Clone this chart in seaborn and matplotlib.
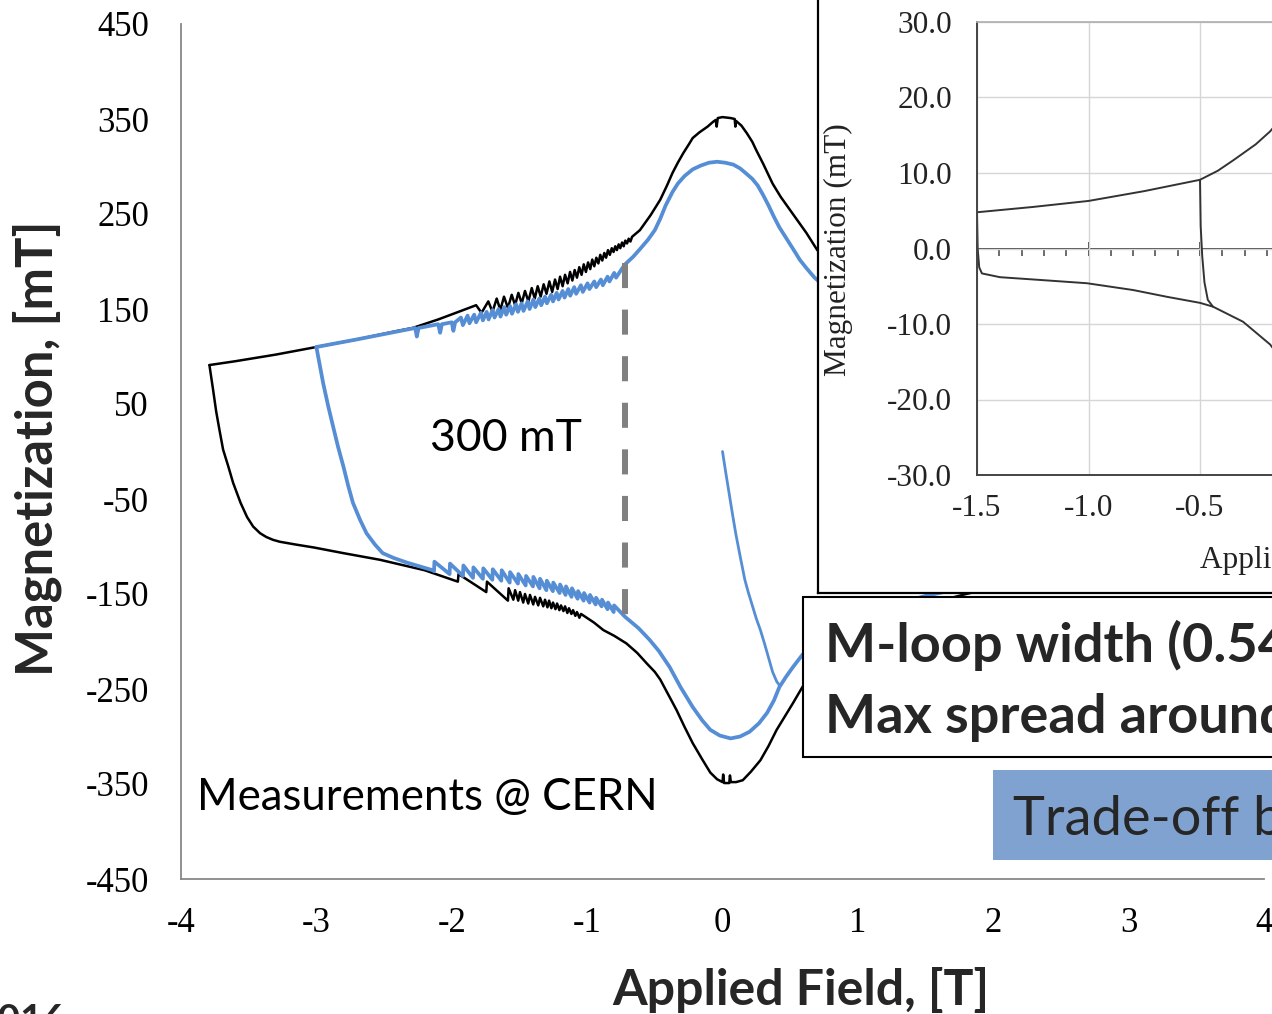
import numpy as np
import pandas as pd
import matplotlib
matplotlib.use("Agg")
import matplotlib.pyplot as plt
import seaborn as sns
from matplotlib.patches import Rectangle
from matplotlib.ticker import MultipleLocator, FormatStrFormatter

# ---------------------------------------------------------------------------
# Magnetization loops, (applied field [T], magnetization [mT])
# ---------------------------------------------------------------------------
black_upper = [
    (-3.79, 91), (-3.60, 95), (-3.30, 102), (-3.00, 110), (-2.70, 118), (-2.40, 127),
    (-2.29, 130), (-2.10, 139), (-1.95, 147), (-1.82, 154), (-1.78, 146),
    (-1.730, 158), (-1.699, 147), (-1.668, 161), (-1.641, 149), (-1.614, 163), (-1.585, 151),
    (-1.557, 165), (-1.532, 154), (-1.508, 167), (-1.483, 156), (-1.459, 169), (-1.434, 158),
    (-1.409, 172), (-1.387, 161), (-1.365, 174), (-1.343, 163), (-1.321, 176), (-1.300, 166),
    (-1.279, 179), (-1.258, 168), (-1.237, 181), (-1.218, 171), (-1.200, 184), (-1.181, 174),
    (-1.163, 186), (-1.144, 177), (-1.126, 189), (-1.109, 180), (-1.092, 191), (-1.075, 183),
    (-1.058, 194), (-1.041, 186), (-1.025, 197), (-1.009, 189), (-0.993, 199), (-0.977, 192),
    (-0.962, 202), (-0.947, 195), (-0.932, 204), (-0.917, 198), (-0.903, 207), (-0.888, 201),
    (-0.873, 209), (-0.860, 204), (-0.846, 212), (-0.832, 207), (-0.818, 214), (-0.805, 210),
    (-0.792, 216), (-0.780, 212), (-0.767, 218), (-0.755, 214), (-0.742, 220), (-0.730, 216),
    (-0.718, 222), (-0.705, 219), (-0.693, 224), (-0.680, 221), (-0.668, 226),
    (-0.61, 233), (-0.53, 249), (-0.46, 265), (-0.41, 280), (-0.37, 293), (-0.33, 304),
    (-0.29, 314), (-0.25, 323), (-0.22, 330), (-0.17, 336), (-0.11, 342), (-0.07, 347),
    (-0.05, 349), (-0.043, 342), (-0.035, 351), (0.00, 352), (0.06, 351), (0.09, 350),
    (0.095, 342), (0.10, 348), (0.14, 343), (0.18, 335), (0.22, 326), (0.25, 317),
    (0.30, 303), (0.37, 282), (0.43, 268), (0.50, 254), (0.56, 242), (0.62, 230),
    (0.70, 212), (0.85, 192), (1.00, 176),
]

black_lower = [
    (-3.79, 91), (-3.763, 65), (-3.74, 42), (-3.715, 22), (-3.689, 2), (-3.65, -16),
    (-3.615, -33), (-3.56, -54), (-3.512, -69), (-3.467, -79), (-3.416, -86), (-3.37, -90),
    (-3.32, -93), (-3.27, -95), (-3.15, -98), (-3.02, -101), (-2.80, -107), (-2.53, -114),
    (-2.20, -125), (-1.955, -137), (-1.950, -129),
    (-1.745, -148), (-1.740, -137), (-1.585, -157), (-1.580, -144),
    (-1.545, -156), (-1.532, -146), (-1.509, -157), (-1.496, -148), (-1.472, -159), (-1.459, -150),
    (-1.435, -160), (-1.422, -151), (-1.398, -161), (-1.385, -153), (-1.361, -162), (-1.348, -154),
    (-1.324, -163), (-1.311, -156), (-1.293, -164), (-1.281, -157), (-1.264, -165), (-1.252, -159),
    (-1.234, -166), (-1.222, -160), (-1.205, -167), (-1.193, -162), (-1.175, -168), (-1.163, -163),
    (-1.146, -170), (-1.134, -165), (-1.116, -171), (-1.104, -167), (-1.087, -173), (-1.075, -169),
    (-1.057, -175), (-1.045, -171),
    (-0.95, -180), (-0.88, -188), (-0.80, -194), (-0.71, -202), (-0.63, -212), (-0.56, -223),
    (-0.50, -232), (-0.46, -240), (-0.40, -256), (-0.34, -272), (-0.28, -290), (-0.22, -307),
    (-0.15, -324), (-0.09, -338), (-0.04, -345), (0.00, -348), (0.005, -340), (0.012, -349),
    (0.05, -349), (0.055, -341), (0.062, -348), (0.10, -348), (0.15, -346), (0.21, -337),
    (0.28, -325), (0.34, -310), (0.40, -293), (0.46, -279), (0.52, -265), (0.59, -248),
    (0.75, -215), (0.90, -202), (1.10, -187), (1.30, -171), (1.50, -161), (1.80, -150),
    (2.10, -140), (2.50, -126), (3.00, -110), (3.79, -91),
]

blue_upper = [
    (-3.00, 110), (-2.70, 118), (-2.45, 125), (-2.27, 130), (-2.258, 121), (-2.245, 130),
    (-2.100, 134), (-2.086, 125), (-2.073, 134), (-2.000, 136), (-1.988, 127), (-1.975, 136),
    (-1.932, 141), (-1.918, 133), (-1.883, 143), (-1.869, 135), (-1.834, 144), (-1.820, 136),
    (-1.784, 146), (-1.770, 138), (-1.742, 147), (-1.728, 139), (-1.698, 149), (-1.684, 141),
    (-1.654, 150), (-1.640, 142), (-1.612, 152), (-1.598, 144), (-1.569, 153), (-1.555, 145),
    (-1.525, 155), (-1.511, 147), (-1.484, 156), (-1.470, 148), (-1.439, 158), (-1.425, 150),
    (-1.397, 160), (-1.383, 152), (-1.353, 161), (-1.339, 154), (-1.311, 163), (-1.297, 156),
    (-1.266, 165), (-1.252, 158), (-1.225, 167), (-1.211, 160), (-1.181, 169), (-1.167, 162),
    (-1.139, 171), (-1.125, 164), (-1.095, 173), (-1.081, 166), (-1.046, 175), (-1.032, 168),
    (-0.997, 177), (-0.983, 171), (-0.947, 179), (-0.933, 173), (-0.898, 181), (-0.884, 175),
    (-0.849, 184), (-0.835, 179), (-0.800, 188), (-0.786, 183),
    (-0.74, 193), (-0.72, 197), (-0.66, 205), (-0.61, 213), (-0.55, 223), (-0.50, 233),
    (-0.46, 245), (-0.42, 259), (-0.37, 273), (-0.33, 282), (-0.28, 290), (-0.22, 297),
    (-0.16, 301), (-0.10, 304), (-0.04, 305), (0.02, 304), (0.08, 302), (0.13, 298),
    (0.18, 292), (0.22, 287), (0.26, 280), (0.30, 270), (0.34, 259), (0.38, 247),
    (0.42, 236), (0.46, 227), (0.50, 218), (0.54, 209), (0.57, 202), (0.62, 193),
    (0.68, 183), (0.85, 162), (1.00, 150),
]

blue_lower = [
    (-3.00, 110), (-2.95, 72), (-2.913, 48), (-2.876, 26), (-2.84, 5), (-2.80, -16),
    (-2.765, -36), (-2.73, -54), (-2.677, -72), (-2.63, -86), (-2.567, -98), (-2.51, -107),
    (-2.43, -112), (-2.33, -117), (-2.14, -125),
    (-2.131, -126), (-2.128, -116), (-2.016, -129), (-2.013, -118), (-1.917, -131), (-1.914, -120),
    (-1.843, -133), (-1.840, -122), (-1.770, -134), (-1.767, -123), (-1.700, -135), (-1.697, -124),
    (-1.634, -136), (-1.631, -125), (-1.572, -138), (-1.569, -127), (-1.511, -139), (-1.508, -129),
    (-1.454, -141), (-1.451, -131), (-1.400, -142), (-1.397, -132), (-1.351, -144), (-1.348, -134),
    (-1.301, -146), (-1.298, -136), (-1.253, -147), (-1.250, -138), (-1.203, -149), (-1.200, -140),
    (-1.159, -151), (-1.156, -142), (-1.115, -153), (-1.112, -144), (-1.070, -155), (-1.067, -147),
    (-1.026, -157), (-1.023, -149), (-0.982, -159), (-0.979, -151), (-0.937, -161), (-0.934, -154),
    (-0.893, -163), (-0.890, -156), (-0.849, -166), (-0.846, -159), (-0.804, -169), (-0.801, -162),
    (-0.72, -174), (-0.62, -186), (-0.54, -198), (-0.47, -210), (-0.39, -227), (-0.31, -248),
    (-0.22, -269), (-0.15, -283), (-0.09, -293), (-0.02, -299), (0.06, -302), (0.13, -300),
    (0.20, -295), (0.27, -286), (0.33, -275), (0.38, -262), (0.42, -248), (0.47, -237),
    (0.52, -227), (0.59, -214), (0.75, -192), (0.90, -178), (1.10, -168), (1.30, -160),
    (1.50, -152), (1.80, -143), (2.20, -132), (2.60, -122), (3.00, -110),
]

blue_virgin = [
    (0.00, 0), (0.025, -23), (0.05, -45), (0.075, -67), (0.10, -88), (0.13, -110),
    (0.165, -135), (0.19, -148), (0.22, -162), (0.25, -176), (0.28, -188), (0.31, -202),
    (0.33, -212), (0.35, -222), (0.37, -232), (0.40, -242), (0.42, -246),
]

# loop opening marked at -0.72 T
gap_field = -0.72
gap_top = 198
gap_bottom = -173

# Small loop (reference sample), field [T] vs magnetization [mT]
small_upper = [
    (-1.5, 4.8), (-1.25, 5.5), (-1.0, 6.3), (-0.75, 7.6), (-0.5, 9.1), (-0.42, 10.3),
    (-0.35, 11.7), (-0.25, 13.8), (-0.186, 15.5), (-0.10, 18.5),
]
small_lower = [
    (-1.5, 4.8), (-1.497, 0.0), (-1.490, -2.5), (-1.478, -3.3), (-1.397, -3.8), (-1.2, -4.2),
    (-1.007, -4.6), (-0.8, -5.5), (-0.648, -6.4), (-0.5, -7.2), (-0.442, -7.7),
    (-0.307, -9.7), (-0.186, -12.7), (-0.10, -16.0),
]
small_jump = [
    (-0.5, 9.1), (-0.497, 3.0), (-0.490, -1.0), (-0.480, -4.5), (-0.465, -6.8), (-0.442, -7.7),
]

main_xticks = list(range(-4, 5))
main_yticks = list(range(-450, 451, 100))
small_xticks = [-1.5, -1.0, -0.5, 0.0, 0.5, 1.0, 1.5]
small_yticks = [-30, -20, -10, 0, 10, 20, 30]

# ---------------------------------------------------------------------------
sns.set_theme(style="white")
plt.rcParams['font.family'] = ['Lato', 'DejaVu Sans']
plt.rcParams['axes.unicode_minus'] = False

W, H = 1272, 1014
fig = plt.figure(figsize=(W / 100, H / 100), dpi=100)
fig.patch.set_facecolor('white')


def fx(px):
    return px / W


def fy(py):
    return 1 - py / H


def frame(points):
    return pd.DataFrame(points, columns=['field', 'mag'])


AXIS_GREY = '#888888'
BLUE = '#558ED5'

ax = fig.add_axes([fx(181), fy(879), fx(1264) - fx(181), fy(24) - fy(879)])
for pts, col, lw in [(black_upper, 'black', 1.8), (black_lower, 'black', 1.8),
                     (blue_upper, BLUE, 2.7), (blue_lower, BLUE, 2.7),
                     (blue_virgin, BLUE, 2.0)]:
    sns.lineplot(data=frame(pts), x='field', y='mag', sort=False, estimator=None,
                 color=col, lw=lw, ax=ax, legend=False)
ax.plot([gap_field, gap_field], [gap_top, gap_bottom], color='#808080', lw=4.3,
        dashes=(4.2, 3.6), zorder=5)

ax.set_xlim(-4, 4)
ax.set_ylim(-450, 450)
ax.set_xticks(main_xticks)
ax.set_yticks(main_yticks)
ax.set_xlabel('')
ax.set_ylabel('')
for side in ('top', 'right'):
    ax.spines[side].set_visible(False)
for side in ('left', 'bottom'):
    ax.spines[side].set_color(AXIS_GREY)
    ax.spines[side].set_linewidth(1.3)
ax.tick_params(axis='both', direction='out', length=8, width=1.3, color=AXIS_GREY,
               labelsize=25, labelcolor='black', labelfontfamily='Liberation Serif')
ax.tick_params(axis='y', pad=15)
ax.tick_params(axis='x', pad=12)
ax.set_facecolor('white')

ax.text(-2.16, 14, '300 mT', fontsize=32, ha='left', va='center', color='black')
ax.text(-3.88, -364, 'Measurements @ CERN', fontsize=31.5, ha='left', va='center',
        color='black')

fig.text(fx(37), fy(448), 'Magnetization, [mT]', rotation=90, fontsize=36.5,
         fontweight='bold', ha='center', va='center')
fig.text(fx(801), fy(1005), 'Applied Field, [T]', fontsize=36, fontweight='bold',
         ha='center', va='baseline')

# white panel holding the small loop
panel = fig.add_axes([fx(818), fy(593), 0.7, 0.7], zorder=3)
panel.set_facecolor('white')
panel.set_xticks([])
panel.set_yticks([])
for sp in panel.spines.values():
    sp.set_color('black')
    sp.set_linewidth(1.6)

axin = fig.add_axes([fx(977), fy(475), fx(669), fy(22) - fy(475)], zorder=4)
axin.set_facecolor('white')
for pts in (small_upper, small_lower, small_jump):
    sns.lineplot(data=frame(pts), x='field', y='mag', sort=False, estimator=None,
                 color='#333333', lw=1.4, ax=axin, legend=False)
axin.set_xlim(-1.5, 1.5)
axin.set_ylim(-30, 30)
axin.set_xticks(small_xticks)
axin.set_yticks(small_yticks)
axin.xaxis.set_major_formatter(FormatStrFormatter('%.1f'))
axin.yaxis.set_major_formatter(FormatStrFormatter('%.1f'))
axin.set_xlabel('')
axin.set_ylabel('')
axin.grid(True, color='#d6d6d6', lw=1.0)
axin.spines['right'].set_visible(False)
axin.spines['top'].set_color('#b0b0b0')
for side in ('left', 'bottom'):
    axin.spines[side].set_color('#444444')
    axin.spines[side].set_linewidth(1.4)
axin.tick_params(axis='both', length=0, labelsize=22.5, labelcolor='#222222',
                 labelfontfamily='Liberation Serif')
axin.tick_params(axis='y', pad=18)
axin.tick_params(axis='x', pad=14)

zero_axis = axin.secondary_xaxis(0.5)
zero_axis.set_alignment('bottom')
zero_axis.set_xticks(small_xticks)
zero_axis.xaxis.set_minor_locator(MultipleLocator(0.1))
zero_axis.tick_params(which='major', direction='inout', length=10, width=1.4,
                      color='#444444', labelbottom=False)
zero_axis.tick_params(which='minor', direction='out', length=5, width=1.1, color='#444444')
zero_axis.spines['bottom'].set_color('#444444')
zero_axis.spines['bottom'].set_linewidth(1.4)

fig.text(fx(838), fy(250), 'Magnetization (mT)', rotation=90, fontsize=22.5,
         family='Liberation Serif', color='#222222', ha='center', va='center', zorder=6)
fig.text(fx(1200), fy(560), 'Applied Field (T)', fontsize=22.5,
         family='Liberation Serif', color='#222222', ha='left', va='center', zorder=6)

# summary boxes
fig.add_artist(Rectangle((fx(803), fy(757)), 0.6, fy(597) - fy(757),
                         transform=fig.transFigure, facecolor='white',
                         edgecolor='black', lw=1.5, zorder=7))
fig.text(fx(825), fy(662), 'M-loop width (0.54 T)', fontsize=39, fontweight='bold',
         ha='left', va='baseline', zorder=8)
fig.text(fx(825), fy(733), 'Max spread around 0 T', fontsize=39, fontweight='bold',
         ha='left', va='baseline', zorder=8)

fig.add_artist(Rectangle((fx(993), fy(860)), 0.5, fy(770) - fy(860),
                         transform=fig.transFigure, facecolor='#7FA2D0',
                         edgecolor='none', zorder=7))
fig.text(fx(1013), fy(835), 'Trade-off between', fontsize=39, ha='left',
         va='baseline', zorder=8)

fig.text(fx(66), fy(1003), '2016', fontsize=28, fontweight='bold', ha='right', va='top')

fig.savefig('out.png', dpi=100, facecolor='white')
